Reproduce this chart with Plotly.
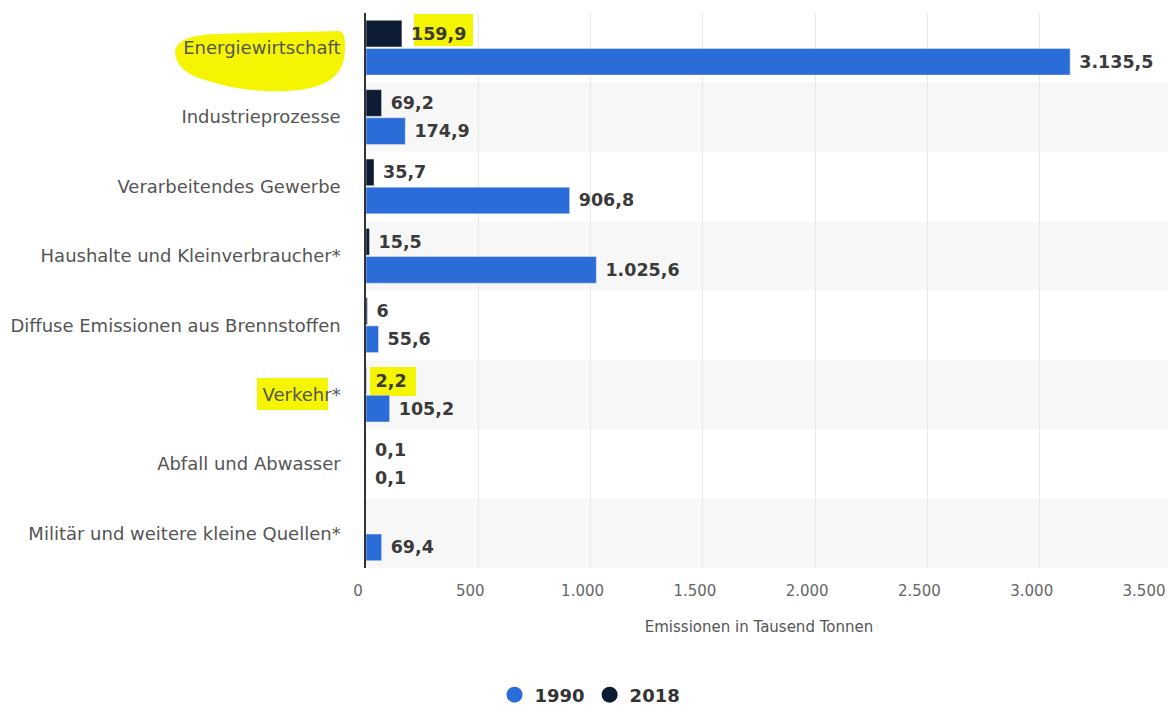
import plotly.graph_objects as go

categories = ["Energiewirtschaft", "Industrieprozesse", "Verarbeitendes Gewerbe",
              "Haushalte und Kleinverbraucher*", "Diffuse Emissionen aus Brennstoffen",
              "Verkehr*", "Abfall und Abwasser", "Militär und weitere kleine Quellen*"]
values_1990 = [3135.5, 174.9, 906.8, 1025.6, 55.6, 105.2, 0.1, 69.4]
values_2018 = [159.9, 69.2, 35.7, 15.5, 6, 2.2, 0.1, None]
x_ticks = [0, 500, 1000, 1500, 2000, 2500, 3000, 3500]

C1990 = "#2a6cd8"
C2018 = "#0e1c33"
FONT = "DejaVu Sans"

W, H = 1168, 705
L, R, T, B = 366, 16, 13, 137
PW, PH = W - L - R, H - T - B


def px(x):
    return (x - L) / PW


def py(y):
    return 1 - (y - T) / PH


def fmt(v):
    if v is None:
        return ""
    if float(v).is_integer():
        s = f"{int(v):,}"
    else:
        s = f"{v:,.1f}"
    return "\u00a0" + s.replace(",", "X").replace(".", ",").replace("X", ".")


label_font = dict(family=FONT, size=17.5, color="#3a3a3a", weight="bold")

fig = go.Figure()
fig.add_trace(go.Bar(y=categories, x=values_2018, orientation="h", name="2018",
                     marker_color=C2018, text=[fmt(v) for v in values_2018],
                     textposition="outside", cliponaxis=False, showlegend=False,
                     textfont=label_font))
fig.add_trace(go.Bar(y=categories, x=values_1990, orientation="h", name="1990",
                     marker_color=C1990, text=[fmt(v) for v in values_1990],
                     textposition="outside", cliponaxis=False, showlegend=False,
                     textfont=label_font))
# legend-only markers
fig.add_trace(go.Scatter(x=[None], y=[None], mode="markers", name="1990",
                         marker=dict(color=C1990, size=20, symbol="circle")))
fig.add_trace(go.Scatter(x=[None], y=[None], mode="markers", name="2018",
                         marker=dict(color=C2018, size=20, symbol="circle")))

shapes = []
# alternating row bands
for i in range(len(categories)):
    if i % 2 == 1:
        shapes.append(dict(type="rect", xref="paper", yref="y", x0=0, x1=px(1168),
                           y0=i - 0.5, y1=i + 0.5, fillcolor="#f7f7f7",
                           line_width=0, layer="below"))

YEL = "#f5f500"
# yellow marker highlights
blob = (f"M {px(213)},{py(34)} L {px(340)},{py(31)} "
        f"Q {px(346)},{py(33)} {px(345)},{py(50)} "
        f"Q {px(345)},{py(84)} {px(300)},{py(90)} "
        f"Q {px(250)},{py(95)} {px(205)},{py(80)} "
        f"Q {px(176)},{py(72)} {px(175)},{py(52)} "
        f"Q {px(176)},{py(36)} {px(213)},{py(34)} Z")
shapes.append(dict(type="path", xref="paper", yref="paper", path=blob,
                   fillcolor=YEL, line_width=0, layer="below"))
for (x0, y0, x1, y1) in [(414, 14, 473, 46), (257, 378, 328, 410), (370, 367, 416, 396)]:
    shapes.append(dict(type="rect", xref="paper", yref="paper", x0=px(x0), x1=px(x1),
                       y0=py(y1), y1=py(y0), fillcolor=YEL, line_width=0, layer="below"))

fig.update_layout(
    width=W, height=H,
    margin=dict(l=L, r=R, t=T, b=B, autoexpand=False),
    barmode="group", bargap=0.19, bargroupgap=0.05,
    plot_bgcolor="rgba(0,0,0,0)", paper_bgcolor="white",
    separators=",.",
    font=dict(family=FONT, color="#555555"),
    shapes=shapes,
    showlegend=True,
    legend=dict(orientation="h", x=(590 - L) / PW, xanchor="center",
                y=py(695), yanchor="middle",
                font=dict(size=18, color="#333333", weight="bold"),
                itemwidth=30, tracegroupgap=0),
    xaxis=dict(range=[0, 3500], tickvals=x_ticks, tickformat=",d", automargin=False,
               showgrid=True, gridcolor="#e8e8e8", gridwidth=1, zeroline=False,
               tickfont=dict(size=15, color="#666666"), ticks="", ticklabelshift=-8,
               ticklabelstandoff=12, ticklabeloverflow="allow",
               title=dict(text="Emissionen in Tausend Tonnen",
                          font=dict(size=15, color="#555555"), standoff=22)),
    yaxis=dict(autorange="reversed", showline=True, linecolor="#333333", linewidth=1.5,
               showgrid=False, ticks="", ticklabelstandoff=20, automargin=False,
               tickfont=dict(size=18, color="#555555")),
)

fig.write_html("out.html", config={"displayModeBar": False},
               post_script="document.body.style.margin='0';document.body.style.overflow='hidden';")
